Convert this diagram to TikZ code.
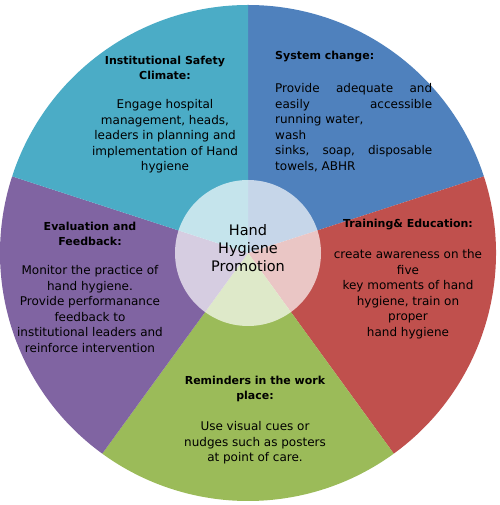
\documentclass[tikz,border=0pt]{standalone}
\usepackage{fontspec}
\setmainfont{DejaVu Sans}
\usepackage{tikz}
\usetikzlibrary{positioning}
\definecolor{instteal}{HTML}{4BACC6}
\definecolor{sysblue}{HTML}{4F81BD}
\definecolor{trainred}{HTML}{C0504D}
\definecolor{remgreen}{HTML}{9BBB59}
\definecolor{evalpurple}{HTML}{8064A2}
\tikzset{
    titletext/.style={
        align=center,
        inner sep=0,
        font=\bfseries\fontsize{11}{15.5}\selectfont % sector heading
    },
    bodytext/.style={
        align=center,
        inner sep=0,
        font=\fontsize{12}{15.5}\selectfont
    },
    hubdisc/.style={
        circle,
        fill=white,
        fill opacity=0.68, % lets the sectors show through
        minimum size=146pt,
        inner sep=0
    },
    hubtext/.style={
        align=center,
        inner sep=0,
        font=\fontsize{14.5}{18}\selectfont
    }
}
\newcommand{\fullline}[1]{\makebox[157pt]{#1}}

\begin{document}
\begin{tikzpicture}[x=1pt, y=1pt, node distance=19pt]
            \useasboundingbox (0,0) rectangle (499,505);
            \coordinate (hub) at (248,252);
            % five sectors
            \foreach \col/\a/\b in {sysblue/18/90, trainred/-54/18,
                    remgreen/-126/-54, evalpurple/-198/-126, instteal/90/162}
                \fill[\col] (hub) -- ++(\a:248pt)
                    arc[start angle=\a, end angle=\b, radius=248pt] -- cycle;
            % centre
            \node[hubdisc] (disc) at (hub) {};
            \node[hubtext] (hubtitle) at ([yshift=5pt]disc.center)
                {Hand\\Hygiene\\Promotion};
            % institutional safety climate
            \node[titletext] (insttitle) at (165,437)
                {Institutional Safety\\Climate:};
            \node[bodytext, below=of insttitle] (insttext)
                {Engage hospital\\management, heads,\\leaders in planning and\\implementation of Hand\\hygiene};
            % system change
            \node[titletext, anchor=west] (systitle) at (275,448) {System change:};
            \node[bodytext, align=left, below=21pt of systitle.south west,
                anchor=north west] (systext)
                {\fullline{Provide\hfill adequate\hfill and}\\
                 \fullline{easily\hfill accessible}\\
                 running water,\\
                 wash\\
                 \fullline{sinks,\hfill soap,\hfill disposable}\\
                 towels, ABHR};
            % training and education
            \node[titletext] (traintitle) at (408,280) {Training\& Education:};
            \node[bodytext, below=of traintitle] (traintext)
                {create awareness on the\\five\\key moments of hand\\hygiene, train on\\proper\\hand hygiene};
            % reminders
            \node[titletext] (remtitle) at (255,116) {Reminders in the work\\place:};
            \node[bodytext, below=of remtitle] (remtext)
                {Use visual cues or\\nudges such as posters\\at point of care.};
            % evaluation and feedback
            \node[titletext] (evaltitle) at (90,271) {Evaluation and\\Feedback:};
            \node[bodytext, below=of evaltitle] (evaltext)
                {Monitor the practice of\\hand hygiene.\\Provide performanance\\feedback to\\institutional leaders and\\reinforce intervention};
\end{tikzpicture}
\end{document}
